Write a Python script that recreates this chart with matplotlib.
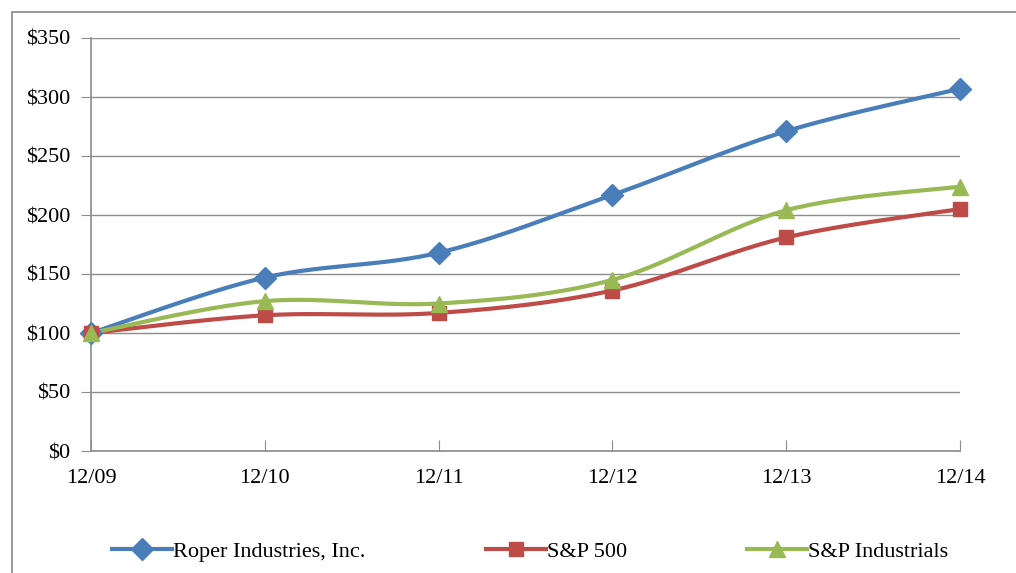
import numpy as np
import matplotlib.pyplot as plt
from matplotlib.patches import Rectangle

plt.rcParams['font.family'] = ['Liberation Serif', 'DejaVu Serif']

# --------- Data ---------
years = ["12/09", "12/10", "12/11", "12/12", "12/13", "12/14"]
roper = [100, 147, 168, 217, 271, 307]
sp500 = [100, 115, 117, 136, 181, 205]
industrials = [100, 127, 125, 145, 204, 224]

series = [
    ("Roper Industries, Inc.", roper, "#4A7EBB", "D", 11),
    ("S&P 500", sp500, "#BE4B48", "s", 10.5),
    ("S&P Industrials", industrials, "#98B954", "^", 12),
]


def smooth(xs, ys, steps=30):
    # Excel-like smoothed line: cubic bezier with catmull-rom control points
    xs = np.asarray(xs, float)
    ys = np.asarray(ys, float)
    n = len(xs)
    px, py = [], []
    for i in range(n - 1):
        x0, y0 = (xs[i - 1], ys[i - 1]) if i > 0 else (xs[i], ys[i])
        x1, y1 = xs[i], ys[i]
        x2, y2 = xs[i + 1], ys[i + 1]
        x3, y3 = (xs[i + 2], ys[i + 2]) if i + 2 < n else (x2, y2)
        c1x, c1y = x1 + (x2 - x0) / 6, y1 + (y2 - y0) / 6
        c2x, c2y = x2 - (x3 - x1) / 6, y2 - (y3 - y1) / 6
        t = np.linspace(0, 1, steps)
        b0, b1, b2, b3 = (1 - t) ** 3, 3 * (1 - t) ** 2 * t, 3 * (1 - t) * t ** 2, t ** 3
        px.extend(b0 * x1 + b1 * c1x + b2 * c2x + b3 * x2)
        py.extend(b0 * y1 + b1 * c1y + b2 * c2y + b3 * y2)
    return px, py


fig = plt.figure(figsize=(10.16, 5.73), dpi=100)
ax = fig.add_axes([91 / 1016, 122 / 573, 869 / 1016, 413 / 573])

# outer frame of the chart
fig.patches.append(Rectangle((12 / 1016, -0.1), 1.2, 1.1 - 12 / 573, transform=fig.transFigure,
                             fill=False, edgecolor="#888888", linewidth=1.2))

x = np.arange(len(years))
for name, vals, color, marker, ms in series:
    sx, sy = smooth(x, vals)
    ax.plot(sx, sy, color=color, linewidth=3, solid_capstyle="round", zorder=3, clip_on=False)
    ax.plot(x, vals, linestyle="none", marker=marker, markersize=ms,
            color=color, zorder=4, clip_on=False)
    ax.plot([], [], color=color, linewidth=3, marker=marker, markersize=ms, label=name)

ax.set_xlim(0, len(years) - 1)
ax.set_ylim(0, 350)
ax.set_yticks(range(0, 351, 50))
ax.set_yticklabels([f"${v}" for v in range(0, 351, 50)], fontsize=16)
ax.set_xticks(x)
ax.set_xticklabels(years, fontsize=16)
ax.grid(axis="y", color="#8c8c8c", linewidth=1)
ax.set_axisbelow(True)
for side in ("top", "right"):
    ax.spines[side].set_visible(False)
for side in ("left", "bottom"):
    ax.spines[side].set_color("#8c8c8c")
    ax.spines[side].set_linewidth(1.2)
ax.tick_params(axis="y", direction="out", length=7, color="#8c8c8c", pad=8)
ax.tick_params(axis="x", direction="in", length=8, color="#8c8c8c", pad=13)

fig.legend(loc="lower center", bbox_to_anchor=(0.522, -0.016), ncol=3, frameon=False,
           fontsize=16, columnspacing=5.4, handlelength=2.7, handletextpad=0.05)

fig.savefig("out.png", dpi=100)
